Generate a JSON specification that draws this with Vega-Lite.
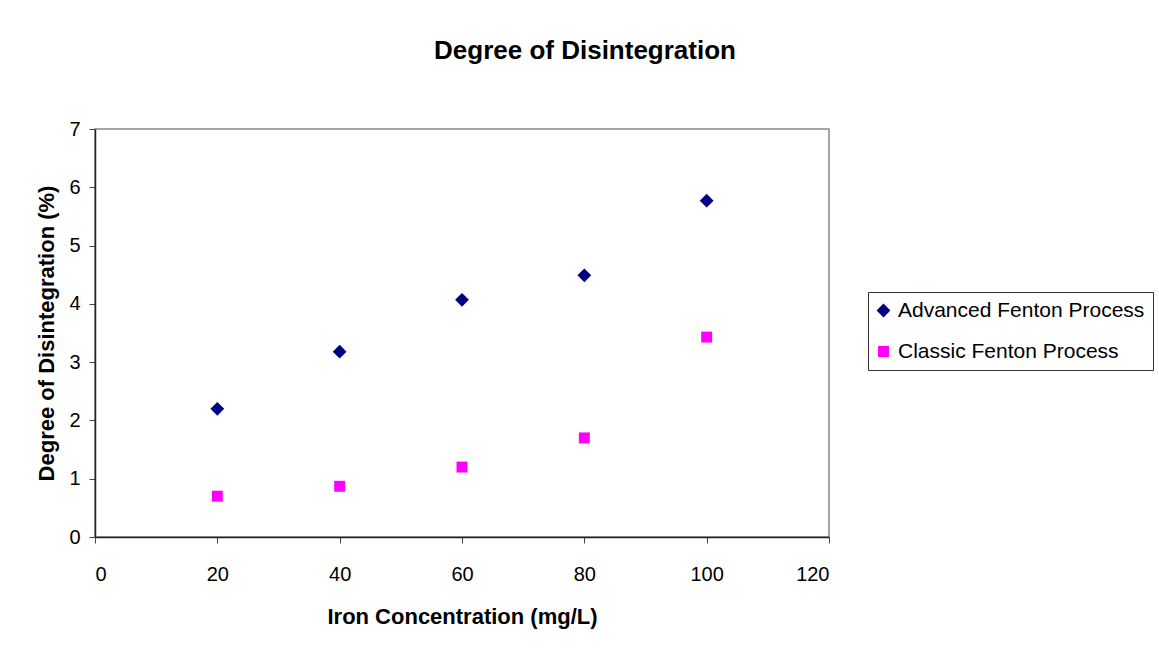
{
  "$schema": "https://vega.github.io/schema/vega-lite/v6.json",
  "autosize": {"type": "none"},
  "width": 734,
  "height": 408,
  "padding": {"left": 95, "top": 129, "right": 330, "bottom": 120},
  "background": "white",
  "title": {
    "text": "Degree of Disintegration",
    "font": "Liberation Sans",
    "fontSize": 26,
    "fontWeight": "bold",
    "color": "black",
    "anchor": "middle",
    "dx": 123,
    "offset": 55
  },
  "data": {
    "values": [
      {"iron": 20, "degree": 2.2, "series": "Advanced Fenton Process"},
      {"iron": 40, "degree": 3.18, "series": "Advanced Fenton Process"},
      {"iron": 60, "degree": 4.07, "series": "Advanced Fenton Process"},
      {"iron": 80, "degree": 4.49, "series": "Advanced Fenton Process"},
      {"iron": 100, "degree": 5.77, "series": "Advanced Fenton Process"},
      {"iron": 20, "degree": 0.7, "series": "Classic Fenton Process"},
      {"iron": 40, "degree": 0.87, "series": "Classic Fenton Process"},
      {"iron": 60, "degree": 1.2, "series": "Classic Fenton Process"},
      {"iron": 80, "degree": 1.7, "series": "Classic Fenton Process"},
      {"iron": 100, "degree": 3.43, "series": "Classic Fenton Process"}
    ]
  },
  "mark": {"type": "point", "filled": true, "opacity": 1},
  "encoding": {
    "x": {
      "field": "iron",
      "type": "quantitative",
      "scale": {"domain": [0, 120], "nice": false, "zero": true},
      "axis": {
        "title": "Iron Concentration (mg/L)",
        "values": [0, 20, 40, 60, 80, 100, 120],
        "grid": false,
        "labelFontSize": 20,
        "labelFont": "Liberation Sans",
        "labelColor": "black",
        "labelPadding": 21,
        "titleFont": "Liberation Sans",
        "titleFontSize": 22,
        "titleFontWeight": "bold",
        "titleColor": "black",
        "titlePadding": 22,
        "domainColor": "#222",
        "domainWidth": 1.5,
        "tickColor": "#444",
        "tickSize": 6
      }
    },
    "y": {
      "field": "degree",
      "type": "quantitative",
      "scale": {"domain": [0, 7], "nice": false},
      "axis": {
        "title": "Degree of Disintegration (%)",
        "values": [0, 1, 2, 3, 4, 5, 6, 7],
        "grid": false,
        "labelFontSize": 20,
        "labelFont": "Liberation Sans",
        "labelColor": "black",
        "labelPadding": 9,
        "titleFont": "Liberation Sans",
        "titleFontSize": 22,
        "titleFontWeight": "bold",
        "titleColor": "black",
        "titlePadding": 10,
        "domainColor": "#222",
        "domainWidth": 1.5,
        "tickColor": "#444",
        "tickSize": 6
      }
    },
    "size": {
      "field": "series",
      "type": "nominal",
      "scale": {"domain": ["Advanced Fenton Process", "Classic Fenton Process"], "range": [190, 120]},
      "legend": null
    },
    "color": {
      "field": "series",
      "type": "nominal",
      "scale": {"domain": ["Advanced Fenton Process", "Classic Fenton Process"], "range": ["#000080", "#FF00FF"]},
      "legend": {
        "title": null,
        "orient": "none",
        "legendX": 773,
        "legendY": 163,
        "strokeColor": "#333",
        "fillColor": "white",
        "padding": 8,
        "rowPadding": 19,
        "labelFont": "Liberation Sans",
        "labelFontSize": 21,
        "labelColor": "black",
        "labelLimit": 400,
        "labelOffset": 4,
        "symbolSize": 100,
        "symbolOffset": -3
      }
    },
    "shape": {
      "field": "series",
      "type": "nominal",
      "scale": {"domain": ["Advanced Fenton Process", "Classic Fenton Process"], "range": ["diamond", "square"]}
    }
  },
  "config": {
    "view": {"stroke": "#888", "strokeWidth": 1.5}
  }
}
